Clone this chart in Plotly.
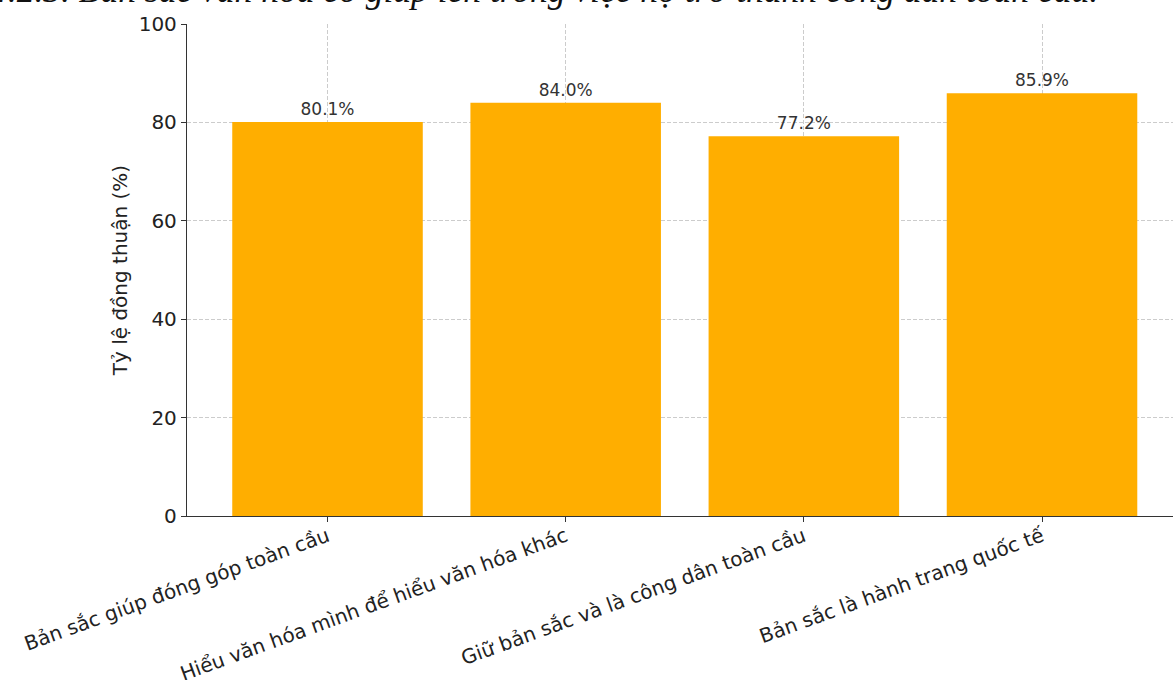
import plotly.graph_objects as go

categories = [
    "Bản sắc giúp đóng góp toàn cầu",
    "Hiểu văn hóa mình để hiểu văn hóa khác",
    "Giữ bản sắc và là công dân toàn cầu",
    "Bản sắc là hành trang quốc tế",
]
values = [80.1, 84.0, 77.2, 85.9]
value_labels = [f"{v:.1f}%" for v in values]
y_ticks = [0, 20, 40, 60, 80, 100]
title_text = "4.2.3. Bản sắc văn hóa có giúp ích trong việc họ trở thành công dân toàn cầu."
y_title = "Tỷ lệ đồng thuận (%)"

W, H = 1173, 680
L, R, T, B = 187, 0, 24, 164
pw = W - L - R
ph = H - T - B

GRID = "#cccccc"
fig = go.Figure()
fig.add_trace(go.Bar(
    x=list(range(len(categories))),
    y=values,
    width=0.8,
    marker=dict(color="#FFAE00", line=dict(width=0)),
    text=value_labels,
    textposition="outside",
    textfont=dict(family="DejaVu Sans", size=17, color="#333333"),
    cliponaxis=False,
))

fig.update_layout(
    width=W, height=H,
    margin=dict(l=L, r=R, t=T, b=B, autoexpand=False),
    paper_bgcolor="white", plot_bgcolor="white",
    showlegend=False,
    font=dict(family="DejaVu Sans", color="#333333"),
    xaxis=dict(
        range=[-0.59, 3.55],
        automargin=False,
        tickmode="array",
        tickvals=list(range(len(categories))),
        ticktext=categories,
        tickangle=-20,
        tickfont=dict(size=20, color="#222222"),
        ticklabelstandoff=-5,
        showgrid=True, gridcolor=GRID, griddash="4px,2px", gridwidth=1,
        showline=True, linecolor="#333333", linewidth=1.3,
        ticks="outside", ticklen=5, tickcolor="#333333",
        zeroline=False,
    ),
    yaxis=dict(
        range=[0, 100],
        automargin=False,
        tickmode="array",
        tickvals=y_ticks,
        tickfont=dict(size=20, color="#222222"),
        showgrid=True, gridcolor=GRID, griddash="4px,2px", gridwidth=1,
        showline=True, linecolor="#333333", linewidth=1.3,
        ticks="outside", ticklen=5, tickcolor="#333333",
        zeroline=False,
        title=dict(text=y_title, font=dict(size=20, color="#222222"), standoff=5),
    ),
)

# Title partially cut off at the top edge, as in the reference
fig.add_annotation(
    text=title_text,
    xref="paper", yref="paper",
    x=(-12 - L) / pw, y=(H - B - 12) / ph,
    xanchor="left", yanchor="bottom",
    showarrow=False,
    font=dict(family="Liberation Serif", size=35.5, color="#111111", style="italic"),
)

fig.write_html("out.html", config={"displayModeBar": False},
               post_script="document.body.style.margin='0';")
